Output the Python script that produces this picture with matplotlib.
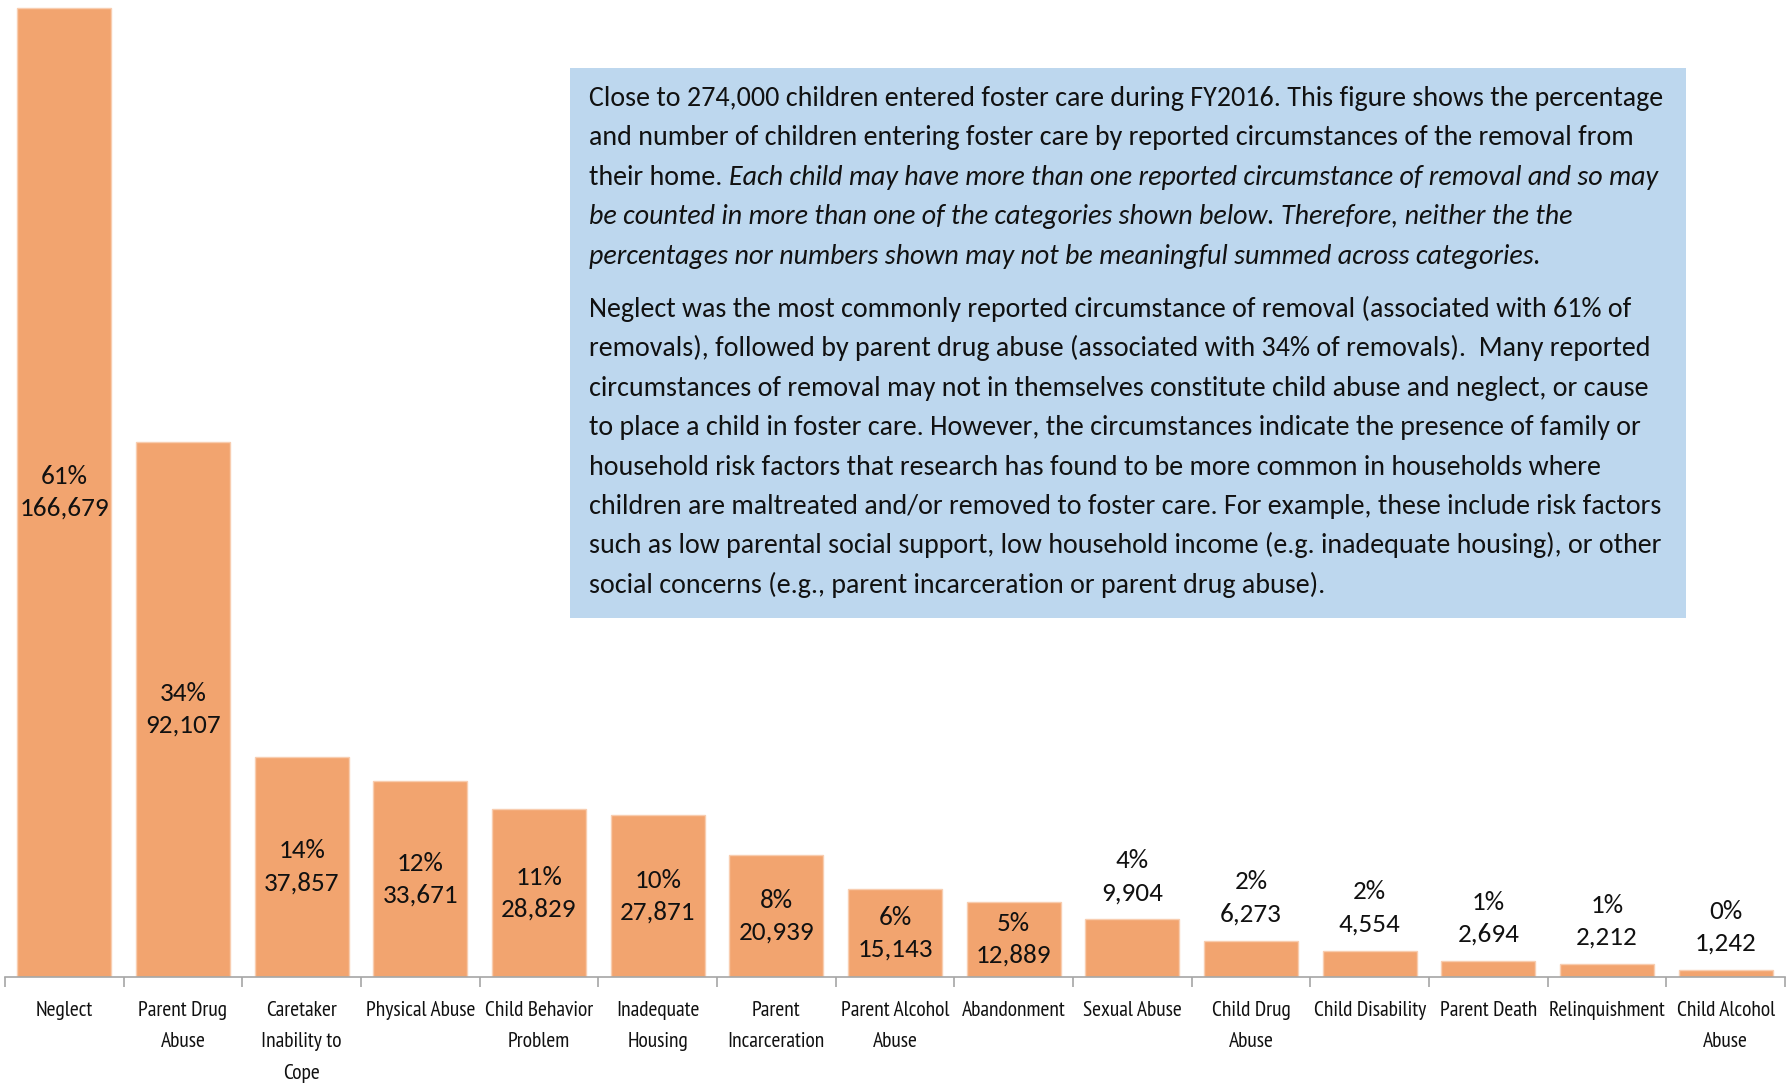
import matplotlib
matplotlib.use("Agg")
import matplotlib.pyplot as plt
import numpy as np

# reasons for removal, FY2016
categories = ["Neglect", "Parent Drug\nAbuse", "Caretaker\nInability to\nCope", "Physical Abuse",
              "Child Behavior\nProblem", "Inadequate\nHousing", "Parent\nIncarceration",
              "Parent Alcohol\nAbuse", "Abandonment", "Sexual Abuse", "Child Drug\nAbuse",
              "Child Disability", "Parent Death", "Relinquishment", "Child Alcohol\nAbuse"]
percents = [61, 34, 14, 12, 11, 10, 8, 6, 5, 4, 2, 2, 1, 1, 0]
counts = [166679, 92107, 37857, 33671, 28829, 27871, 20939, 15143, 12889, 9904, 6273,
          4554, 2694, 2212, 1242]

para1 = [
    [("Close to 274,000 children entered foster care during FY2016. This figure shows the percentage", "normal")],
    [("and number of children entering foster care by reported circumstances of the removal from", "normal")],
    [("their home.", "normal"), ("Each child may have more than one reported circumstance of removal and so may", "italic")],
    [("be counted in more than one of the categories shown below. Therefore, neither the the", "italic")],
    [("percentages nor numbers shown may not be meaningful summed across categories.", "italic")],
]
para2 = [
    "Neglect was the most commonly reported circumstance of removal (associated with 61% of",
    "removals), followed by parent drug abuse (associated with 34% of removals).  Many reported",
    "circumstances of removal may not in themselves constitute child abuse and neglect, or cause",
    "to place a child in foster care. However, the circumstances indicate the presence of family or",
    "household risk factors that research has found to be more common in households where",
    "children are maltreated and/or removed to foster care. For example, these include risk factors",
    "such as low parental social support, low household income (e.g. inadequate housing), or other",
    "social concerns (e.g., parent incarceration or parent drug abuse).",
]

W, H = 1787, 1088
fig = plt.figure(figsize=(W / 100, H / 100), dpi=100)
ax = fig.add_axes([5 / W, 1 - 977 / H, 1780 / W, 977 / H])

bar_color = "#f2a46f"
x = np.arange(len(categories))
bars = ax.bar(x, counts, width=0.79, color=bar_color, edgecolor="#f8cdb0", linewidth=1)

ax.set_xlim(-0.5, len(categories) - 0.5)
ax.set_ylim(0, 168050)

label_font = ["Carlito", "DejaVu Sans"]
for xi, c, p in zip(x, counts, percents):
    txt = f"{p}%\n{c:,}"
    if c > 11000:
        ax.text(xi, c / 2, txt, ha="center", va="center", fontsize=19.5,
                family=label_font, linespacing=1.47, color="#111111")
    else:
        ax.annotate(txt, (xi, c), xytext=(0, 11), textcoords="offset points",
                    ha="center", va="bottom", fontsize=19.5, family=label_font,
                    linespacing=1.47, color="#111111")

for s in ["top", "right", "left"]:
    ax.spines[s].set_visible(False)
ax.spines["bottom"].set_color("#a6a6a6")
ax.spines["bottom"].set_linewidth(1.2)
ax.set_yticks([])

ax.set_xticks(x)
ax.set_xticklabels(categories, family=["PT Sans Narrow", "DejaVu Sans"],
                   fontsize=15.5, linespacing=1.85, color="#111111")
ax.tick_params(axis="x", which="major", length=0, pad=17)
ax.set_xticks(np.arange(-0.5, len(categories)), minor=True)
ax.tick_params(axis="x", which="minor", length=7, width=1.2, color="#a6a6a6")

# note box
box_x0, box_y0, box_x1, box_y1 = 570, 68, 1686, 618
fig.patches.append(plt.Rectangle((box_x0 / W, 1 - box_y1 / H), (box_x1 - box_x0) / W,
                                 (box_y1 - box_y0) / H, transform=fig.transFigure,
                                 facecolor="#bdd7ee", edgecolor="none", zorder=0))

body_font = ["Carlito", "DejaVu Sans"]
body_size = 20.2
text_x = 589
fig.canvas.draw()
renderer = fig.canvas.get_renderer()

sp = fig.text(0, 0, "a a", family=body_font, fontsize=body_size)
sp2 = fig.text(0, 0, "aa", family=body_font, fontsize=body_size)
space = sp.get_window_extent(renderer).width - sp2.get_window_extent(renderer).width
sp.remove()
sp2.remove()


def put_line(segments, ypx):
    xpx = text_x
    for s, style in segments:
        t = fig.text(xpx / W, 1 - ypx / H, s, family=body_font, style=style,
                     fontsize=body_size, va="baseline", ha="left", color="#111111")
        xpx = xpx + t.get_window_extent(renderer).width + space


line_gap = 39.4
for i, segs in enumerate(para1):
    put_line(segs, 106 + i * line_gap)
for i, s in enumerate(para2):
    put_line([(s, "normal")], 317 + i * line_gap)

fig.savefig("out.png", dpi=100)
